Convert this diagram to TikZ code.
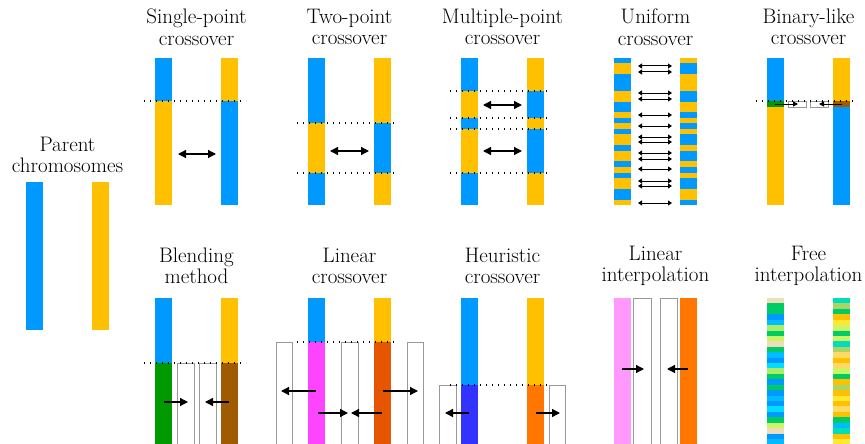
\documentclass[tikz,border=0pt]{standalone}
\usetikzlibrary{arrows.meta}

\definecolor{cblue}{HTML}{0099FF}
\definecolor{corange}{HTML}{FFC000}
\definecolor{cgreen}{HTML}{009900}
\definecolor{cbrown}{HTML}{A05A00}
\definecolor{cmagenta}{HTML}{FF44FF}
\definecolor{cdorange}{HTML}{E65500}
\definecolor{cdblue}{HTML}{3333FF}
\definecolor{cborange}{HTML}{FF7700}
\definecolor{cpink}{HTML}{FF99FF}
% colours of the free interpolation genes
\definecolor{fbeige}{HTML}{EEDDBB}
\definecolor{fgreen}{HTML}{00CC66}
\definecolor{flblue}{HTML}{00BBFF}
\definecolor{fcyan}{HTML}{00DDFF}
\definecolor{flgreen}{HTML}{AAEE66}
\definecolor{fygreen}{HTML}{CCF566}
\definecolor{fteal}{HTML}{00DDBB}
\definecolor{folive}{HTML}{AAD466}
\definecolor{fyellow}{HTML}{FFE833}
\definecolor{florange}{HTML}{FFD966}

\tikzset{
  lbl/.style={align=center, font=\fontsize{21}{21.5}\selectfont, inner sep=0pt},
  cut/.style={line width=1.4pt, dash pattern=on 1.4pt off 4.6pt},
  gbox/.style={draw=gray!80, line width=0.9pt},
  arr/.style={-{Triangle[length=8pt,width=8pt]}, line width=1.3pt},
  darr/.style={{Triangle[length=8pt,width=8pt]}-{Triangle[length=8pt,width=8pt]}, line width=1.3pt},
  sarr/.style={{Triangle[length=4pt,width=5pt]}-{Triangle[length=4pt,width=5pt]}, line width=1pt},
  tarr/.style={-{Triangle[length=5pt,width=5pt]}, line width=1pt}
}

\begin{document}
\begin{tikzpicture}[x=1pt, y=-1pt]
    \useasboundingbox (0,0) rectangle (865,444);

    % Parent chromosomes
    \node[lbl] (lparent) at (67.5,155) {Parent\\chromosomes};
    \fill[cblue] (26,182) rectangle (43,330);
    \fill[corange] (92,182) rectangle (109,330);

    % Single-point crossover
    \node[lbl] (lsingle) at (196.5,27) {Single-point\\crossover};
    \fill[cblue] (155,58) rectangle (172,101);
    \fill[corange] (155,101) rectangle (172,205);
    \fill[corange] (221,58) rectangle (238,101);
    \fill[cblue] (221,101) rectangle (238,205);
    \draw[cut] (144,101) -- (246,101);
    \draw[darr] (178,154) -- (216,154);

    % Two-point crossover
    \node[lbl] (ltwo) at (349.5,27) {Two-point\\crossover};
    \fill[cblue] (308,58) rectangle (325,205);
    \fill[corange] (308,123) rectangle (325,173);
    \fill[corange] (374,58) rectangle (391,205);
    \fill[cblue] (374,123) rectangle (391,173);
    \draw[cut] (297,123) -- (398,123);
    \draw[cut] (297,173) -- (398,173);
    \draw[darr] (330,151) -- (369,151);

    % Multiple-point crossover
    \node[lbl] (lmulti) at (502.5,27) {Multiple-point\\crossover};
    \fill[cblue] (461,58) rectangle (478,205);
    \fill[corange] (527,58) rectangle (544,205);
    \foreach \a/\b in {91/118, 129/173} {
      \fill[corange] (461,\a) rectangle (478,\b);
      \fill[cblue] (527,\a) rectangle (544,\b);
    }
    \foreach \yy in {91, 118, 129, 173}
      \draw[cut] (450,\yy) -- (551,\yy);
    \draw[darr] (483,105) -- (522,105);
    \draw[darr] (483,151) -- (522,151);

    % Uniform crossover
    \node[lbl] (luniform) at (655.5,27) {Uniform\\crossover};
    \foreach \a/\b in {58/63, 74/91, 102/112, 118/123, 129/134, 145/151, 161/167, 173/178, 189/200} {
      \fill[cblue] (614,\a) rectangle (631,\b);
      \fill[corange] (680,\a) rectangle (697,\b);
    }
    \foreach \a/\b in {63/74, 91/102, 112/118, 123/129, 134/145, 151/161, 167/173, 178/189, 200/205} {
      \fill[corange] (614,\a) rectangle (631,\b);
      \fill[cblue] (680,\a) rectangle (697,\b);
    }
    \foreach \yy in {66, 72, 93, 99, 115, 126, 137, 142, 153, 159, 169, 181, 186, 203}
      \draw[sarr] (638,\yy) -- (672,\yy);

    % Binary-like crossover
    \node[lbl] (lbinary) at (808.5,27) {Binary-like\\crossover};
    \fill[cblue] (767,58) rectangle (784,101);
    \fill[cgreen] (767,101) rectangle (784,107);
    \fill[corange] (767,107) rectangle (784,205);
    \fill[corange] (833,58) rectangle (850,101);
    \fill[cbrown] (833,101) rectangle (850,107);
    \fill[cblue] (833,107) rectangle (850,205);
    \draw[gbox] (788,101) rectangle (806,107);
    \draw[gbox] (810,101) rectangle (828,107);
    \draw[cut] (756,101) -- (857,101);
    \draw[tarr] (775,104) -- (798,104);
    \draw[tarr] (842,104) -- (819,104);

    % Blending method
    \node[lbl] (lblend) at (196.5,266) {Blending\\method};
    \fill[cblue] (155,298) rectangle (172,363);
    \fill[cgreen] (155,363) rectangle (172,444);
    \fill[corange] (221,298) rectangle (238,363);
    \fill[cbrown] (221,363) rectangle (238,444);
    \draw[gbox] (177,444) |- (194,363) -- (194,444);
    \draw[gbox] (199,444) |- (216,363) -- (216,444);
    \draw[cut] (144,363) -- (246,363);
    \draw[arr] (164,402) -- (188,402);
    \draw[arr] (229,402) -- (205,402);

    % Linear crossover
    \node[lbl] (llinear) at (349.5,266) {Linear\\crossover};
    \fill[cblue] (308,298) rectangle (325,342);
    \fill[cmagenta] (308,342) rectangle (325,444);
    \fill[corange] (374,298) rectangle (391,342);
    \fill[cdorange] (374,342) rectangle (391,444);
    \foreach \xa/\xb in {276/292, 341/358, 407/423}
      \draw[gbox] (\xa,444) |- (\xb,342) -- (\xb,444);
    \draw[cut] (297,342) -- (398,342);
    \draw[arr] (316,391) -- (281,391);
    \draw[arr] (383,391) -- (418,391);
    \draw[arr] (318,413) -- (348,413);
    \draw[arr] (382,413) -- (351,413);

    % Heuristic crossover
    \node[lbl] (lheur) at (502.5,266) {Heuristic\\crossover};
    \fill[cblue] (461,298) rectangle (478,385);
    \fill[cdblue] (461,385) rectangle (478,444);
    \fill[corange] (527,298) rectangle (544,385);
    \fill[cborange] (527,385) rectangle (544,444);
    \draw[gbox] (439,444) |- (456,385) -- (456,444);
    \draw[gbox] (549,444) |- (565,385) -- (565,444);
    \draw[cut] (450,385) -- (551,385);
    \draw[arr] (469,413) -- (445,413);
    \draw[arr] (536,413) -- (560,413);

    % Linear interpolation
    \node[lbl] (linterp) at (655.5,266) {Linear\\interpolation};
    \fill[cpink] (614,298) rectangle (631,444);
    \fill[cborange] (680,298) rectangle (697,444);
    \draw[gbox] (633,444) |- (651,298) -- (651,444);
    \draw[gbox] (660,444) |- (677,298) -- (677,444);
    \draw[arr] (622,369) -- (644,369);
    \draw[arr] (688,369) -- (667,369);

    % Free interpolation
    \node[lbl] (lfree) at (808.5,266) {Free\\interpolation};
    \foreach \c [count=\i from 0] in {fbeige, fgreen, fgreen, cblue, flblue, flgreen, fgreen, fygreen, fbeige, fgreen, flblue, cblue, fcyan, flgreen, fgreen, cblue, fgreen, cblue, flblue, cblue, fcyan, cblue, fgreen, fygreen, fbeige, cblue, flblue}
      \fill[\c] (767,298+5.42*\i) rectangle (784,298.3+5.42*\i+5.42);
    \foreach \c [count=\i from 0] in {fteal, folive, fgreen, corange, fyellow, fygreen, fgreen, fygreen, fteal, folive, florange, corange, florange, fygreen, fgreen, corange, folive, corange, fyellow, corange, florange, corange, fgreen, flblue, fteal, corange, fyellow}
      \fill[\c] (833,298+5.42*\i) rectangle (850,298.3+5.42*\i+5.42);
\end{tikzpicture}
\end{document}
